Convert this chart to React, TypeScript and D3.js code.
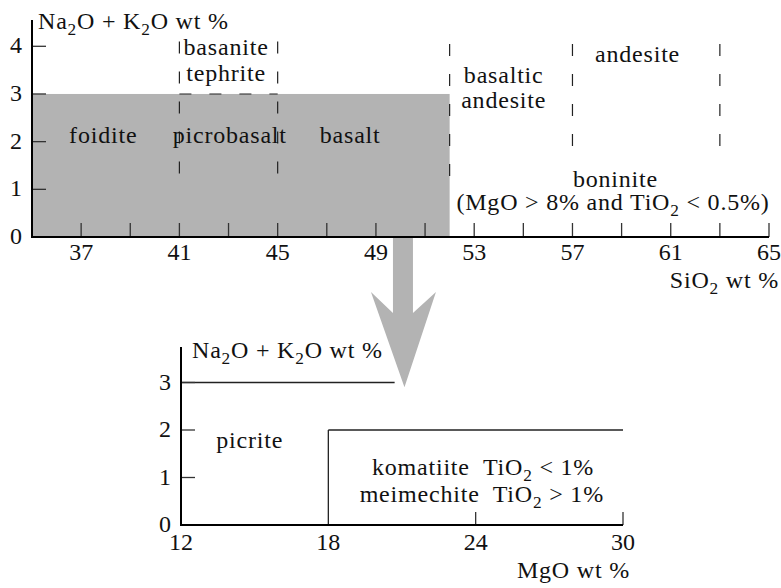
import React, { useEffect, useRef } from 'react';
import * as d3 from 'd3';

// upper panel: TAS diagram (SiO2 vs total alkali)
const topYTicks = [0, 1, 2, 3, 4];
const topXLabels = [37, 41, 45, 49, 53, 57, 61, 65];
const topXTicks = [37, 39, 41, 43, 45, 47, 49, 51, 53, 55, 57, 59, 61, 63, 65];
const shadedSiO2 = [35, 52];
const shadedAlk = [0, 3];

// dashed field boundaries [x1, y1, x2, y2]
const dashedBounds: [number, number, number, number][] = [
  [41, 1.15, 41, 4.1],
  [45, 1.15, 45, 4.1],
  [41, 3, 45, 3],
  [52, 1.15, 52, 4.05],
  [57, 1.86, 57, 4.05],
  [63, 1.86, 63, 4.05],
];

// field labels [text, SiO2, alkali] ("_2" = subscript)
const topLabels: [string, number, number][] = [
  ['foidite', 37.9, 1.97],
  ['picrobasalt', 43.05, 1.97],
  ['basalt', 47.95, 1.97],
  ['basanite', 42.9, 3.82],
  ['tephrite', 42.9, 3.27],
  ['basaltic', 54.2, 3.24],
  ['andesite', 54.2, 2.71],
  ['andesite', 59.65, 3.67],
  ['boninite', 58.75, 1.05],
  ['(MgO > 8% and TiO_2 < 0.5%)', 58.65, 0.57],
];

// lower panel: MgO vs total alkali
const lowYTicks = [0, 1, 2, 3];
const lowXLabels = [12, 18, 24, 30];
const lowXTicks = [24, 30];
// solid boundaries [x1, y1, x2, y2]
const lowBounds: [number, number, number, number][] = [
  [12, 3, 20.7, 3],
  [18, 0, 18, 2],
  [18, 2, 30, 2],
];
const lowLabels: [string, number, number][] = [
  ['picrite', 14.8, 1.62],
  ['komatiite  TiO_2 < 1%', 24.3, 1.05],
  ['meimechite  TiO_2 > 1%', 24.25, 0.49],
];

// arrow: from top panel SiO2 value down to a point in lower panel
const arrowSiO2 = 50.1;
const arrowTip = [21.1, 2.9]; // MgO, alkali in lower panel

const FONT = '"Liberation Serif", "Times New Roman", serif';
const FS = 24;
const GRAY = '#b3b3b3';

function addText(g: any, str: string, x: number, y: number, anchor: string, ls = 0) {
  const t = g.append('text')
    .attr('x', x).attr('y', y)
    .attr('text-anchor', anchor)
    .style('font-family', FONT)
    .style('font-size', FS + 'px')
    .style('letter-spacing', ls + 'px')
    .style('white-space', 'pre')
    .attr('fill', '#111');
  const parts = str.split(/(_2)/);
  let shifted = false;
  parts.forEach(p => {
    if (p === '_2') {
      t.append('tspan').attr('dy', 6).style('font-size', FS * 0.72 + 'px').text('2');
      shifted = true;
    } else if (p.length) {
      const s = t.append('tspan').text(p);
      if (shifted) { s.attr('dy', -6); shifted = false; }
    }
  });
  return t;
}

export default function App() {
  const svgRef = useRef<SVGSVGElement>(null);

  useEffect(() => {
    if (!svgRef.current) return;
    const svg = d3.select(svgRef.current);
    svg.selectAll('*').remove();

    const x = d3.scaleLinear().domain([35, 65]).range([32, 769]);
    const y = d3.scaleLinear().domain([0, 4]).range([237, 46.3]);
    const x2 = d3.scaleLinear().domain([12, 30]).range([181, 623]);
    const y2 = d3.scaleLinear().domain([0, 3]).range([525, 382.5]);

    const top = svg.append('g');

    // shaded field
    top.append('rect')
      .attr('x', x(shadedSiO2[0]))
      .attr('y', y(shadedAlk[1]))
      .attr('width', x(shadedSiO2[1]) - x(shadedSiO2[0]))
      .attr('height', y(shadedAlk[0]) - y(shadedAlk[1]))
      .attr('fill', GRAY);

    // arrow
    const ax = x(arrowSiO2);
    const tipX = x2(arrowTip[0]);
    const tipY = y2(arrowTip[1]);
    const hw = 10;
    const neckY = 313;
    const wingY = 292;
    top.append('path')
      .attr('d', `M${ax - hw},${y(0)} L${ax - hw},${neckY} L${ax - 32},${wingY} L${tipX},${tipY} L${ax + 33},${wingY} L${ax + hw},${neckY} L${ax + hw},${y(0)} Z`)
      .attr('fill', GRAY);

    // dashed boundaries
    dashedBounds.forEach(d => {
      top.append('line')
        .attr('x1', x(d[0])).attr('y1', y(d[3]))
        .attr('x2', x(d[2])).attr('y2', y(d[1]))
        .attr('stroke', '#222').attr('stroke-width', 1.2)
        .attr('stroke-dasharray', '12,18');
    });

    // ticks
    topXTicks.forEach(v => {
      top.append('line')
        .attr('x1', x(v)).attr('x2', x(v))
        .attr('y1', y(0)).attr('y2', y(0) - 14)
        .attr('stroke', '#333').attr('stroke-width', 1.3);
    });
    topYTicks.filter(v => v > 0).forEach(v => {
      top.append('line')
        .attr('x1', x(35)).attr('x2', x(35) + 14)
        .attr('y1', y(v)).attr('y2', y(v))
        .attr('stroke', '#333').attr('stroke-width', 1.3);
    });

    // axes
    top.append('line').attr('x1', x(35)).attr('x2', x(65)).attr('y1', y(0)).attr('y2', y(0))
      .attr('stroke', '#000').attr('stroke-width', 2);
    top.append('line').attr('x1', x(35)).attr('x2', x(35)).attr('y1', y(0) + 1).attr('y2', y(4.55))
      .attr('stroke', '#000').attr('stroke-width', 2);

    topYTicks.forEach(v => addText(top, String(v), x(35) - 10, y(v) + 7, 'end'));
    topXLabels.forEach(v => addText(top, String(v), x(v), 260, 'middle'));
    addText(top, 'Na_2O + K_2O wt %', x(35) + 6, 29, 'start', 0.8);
    addText(top, 'SiO_2 wt %', 779, 288, 'end', 0.8);

    topLabels.forEach(([t, vx, vy]) => addText(top, t, x(vx), y(vy), 'middle', 0.8));

    // lower panel
    const low = svg.append('g');
    lowBounds.forEach(d => {
      low.append('line')
        .attr('x1', x2(d[0])).attr('y1', y2(d[1]))
        .attr('x2', x2(d[2])).attr('y2', y2(d[3]))
        .attr('stroke', '#222').attr('stroke-width', 1.3);
    });
    lowXTicks.forEach(v => {
      low.append('line')
        .attr('x1', x2(v)).attr('x2', x2(v))
        .attr('y1', y2(0)).attr('y2', y2(0) - 13)
        .attr('stroke', '#333').attr('stroke-width', 1.3);
    });
    lowYTicks.filter(v => v > 0).forEach(v => {
      low.append('line')
        .attr('x1', x2(12)).attr('x2', x2(12) + 14)
        .attr('y1', y2(v)).attr('y2', y2(v))
        .attr('stroke', '#333').attr('stroke-width', 1.3);
    });
    low.append('line').attr('x1', x2(12)).attr('x2', x2(30)).attr('y1', y2(0)).attr('y2', y2(0))
      .attr('stroke', '#000').attr('stroke-width', 2);
    low.append('line').attr('x1', x2(12)).attr('x2', x2(12)).attr('y1', y2(0) + 1).attr('y2', y2(3.75))
      .attr('stroke', '#000').attr('stroke-width', 2);

    lowYTicks.forEach(v => addText(low, String(v), x2(12) - 10, y2(v) + 7, 'end'));
    lowXLabels.forEach(v => addText(low, String(v), x2(v), 550, 'middle'));
    addText(low, 'Na_2O + K_2O wt %', x2(12) + 11, 358, 'start', 0.8);
    addText(low, 'MgO wt %', 630, 578, 'end', 0.8);
    lowLabels.forEach(([t, vx, vy]) => addText(low, t, x2(vx), y2(vy), 'middle', 0.8));
  }, []);

  return (
    <svg ref={svgRef} width={781} height={588}
      style={{ position: 'absolute', left: 0, top: 0, background: '#fff' }} />
  );
}
